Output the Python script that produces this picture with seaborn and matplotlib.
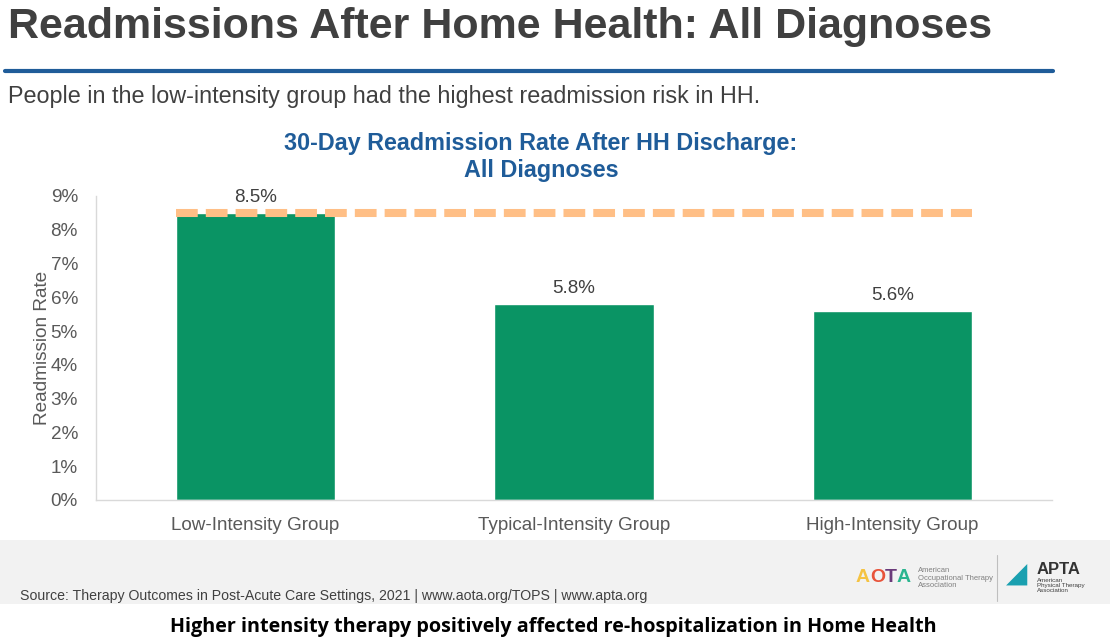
import seaborn as sns
import matplotlib.pyplot as plt
import pandas as pd
from matplotlib.patches import Rectangle
from matplotlib.lines import Line2D

# data
groups = ["Low-Intensity Group", "Typical-Intensity Group", "High-Intensity Group"]
rates = [8.5, 5.8, 5.6]
yticks = [0, 1, 2, 3, 4, 5, 6, 7, 8, 9]
ytick_labels = [f"{t}%" for t in yticks]

df = pd.DataFrame({"group": groups, "rate": rates})

sns.set_style("white")
plt.rcParams['font.family'] = ['Liberation Sans', 'DejaVu Sans']

fig = plt.figure(figsize=(11.19, 6.44), dpi=100)
ax = fig.add_axes([96 / 1119, 144 / 644, (1052 - 96) / 1119, (500 - 196) / 644])

sns.barplot(data=df, x="group", y="rate", color="#0A9464", width=0.5,
            saturation=1, ax=ax, zorder=2)

# dashed reference line at the highest rate
ax.plot([-0.25, 2.25], [max(rates), max(rates)], color="#FFBF86", lw=5.8,
        ls=(0, (2.7, 1.0)), solid_capstyle="butt", dash_capstyle="butt", zorder=3)

for i, v in enumerate(rates):
    ax.text(i, v + 0.2, f"{v}%", ha="center", va="bottom", fontsize=13.5, color="#404040")

ax.set_xlim(-0.5, 2.5)
ax.set_ylim(0, 9)
ax.set_yticks(yticks)
ax.set_yticklabels(ytick_labels)
ax.tick_params(axis="y", length=12, direction="inout", color="#D9D9D9", labelsize=13.6,
               labelcolor="#595959", pad=7)
ax.tick_params(axis="x", length=0, labelsize=13.6, labelcolor="#595959", pad=12)
ax.set_xlabel("")
ax.set_ylabel("Readmission Rate", fontsize=13.7, color="#595959", labelpad=0)
for s in ["top", "right"]:
    ax.spines[s].set_visible(False)
for s in ["left", "bottom"]:
    ax.spines[s].set_color("#D9D9D9")
    ax.spines[s].set_linewidth(1)

# headings
fig.text(8 / 1119, 1 - 38 / 644, "Readmissions After Home Health: All Diagnoses",
         fontsize=31, fontweight="bold", color="#404040", va="baseline", ha="left",
         family=['Liberation Sans Narrow', 'Liberation Sans'])
fig.add_artist(Line2D([5 / 1119, 1053 / 1119], [1 - 71 / 644, 1 - 71 / 644],
                      color="#1F5C99", lw=3))
fig.text(8 / 1119, 1 - 96 / 644,
         "People in the low-intensity group had the highest readmission risk in HH.",
         fontsize=16.8, color="#404040", va="center", ha="left")
fig.text(541 / 1119, 1 - 157 / 644, "30-Day Readmission Rate After HH Discharge:\nAll Diagnoses",
         fontsize=16.8, fontweight="bold", color="#1F5C99", ha="center", va="center",
         linespacing=1.2)

# footer band
fig.patches.append(Rectangle((0, 40 / 644), 1110 / 1119, 64 / 644, transform=fig.transFigure,
                             facecolor="#F2F2F2", edgecolor="none", zorder=0))
fig.text(20 / 1119, 1 - 596 / 644,
         "Source: Therapy Outcomes in Post-Acute Care Settings, 2021 | www.aota.org/TOPS | www.apta.org",
         fontsize=10.2, color="#404040", va="center", ha="left")

# logos (approximated as text)
aota_letters = ["A", "O", "T", "A"]
aota_cols = ["#F5C342", "#E8533A", "#6B3A7A", "#2BB58F"]
aota_x = [856, 870, 885, 897]
for ch, c, xp in zip(aota_letters, aota_cols, aota_x):
    fig.text(xp / 1119, 1 - 578 / 644, ch, fontsize=14, fontweight="bold",
             color=c, va="center", ha="left")
fig.text(918 / 1119, 1 - 578 / 644, "American\nOccupational Therapy\nAssociation",
         fontsize=5.5, color="#808080", va="center", ha="left", linespacing=1.1)
fig.add_artist(Line2D([997 / 1119, 997 / 1119], [1 - 555 / 644, 1 - 601 / 644],
                      color="#BFBFBF", lw=0.8))
fig.text(1006 / 1119, 1 - 575 / 644, "\u25e2", fontsize=20, color="#1AA0B0",
         va="center", ha="left")
fig.text(1037 / 1119, 1 - 569 / 644, "APTA", fontsize=12, fontweight="bold",
         color="#333333", va="center", ha="left")
fig.text(1037 / 1119, 1 - 585 / 644, "American\nPhysical Therapy\nAssociation",
         fontsize=4.5, color="#404040", va="center", ha="left", linespacing=1.0)

fig.text(553 / 1119, 1 - 627 / 644,
         "Higher intensity therapy positively affected re-hospitalization in Home Health",
         fontsize=14.2, fontweight="bold", color="black", ha="center", va="center",
         family=['Open Sans', 'DejaVu Sans'])

fig.savefig("out.png", dpi=100, facecolor="white")
